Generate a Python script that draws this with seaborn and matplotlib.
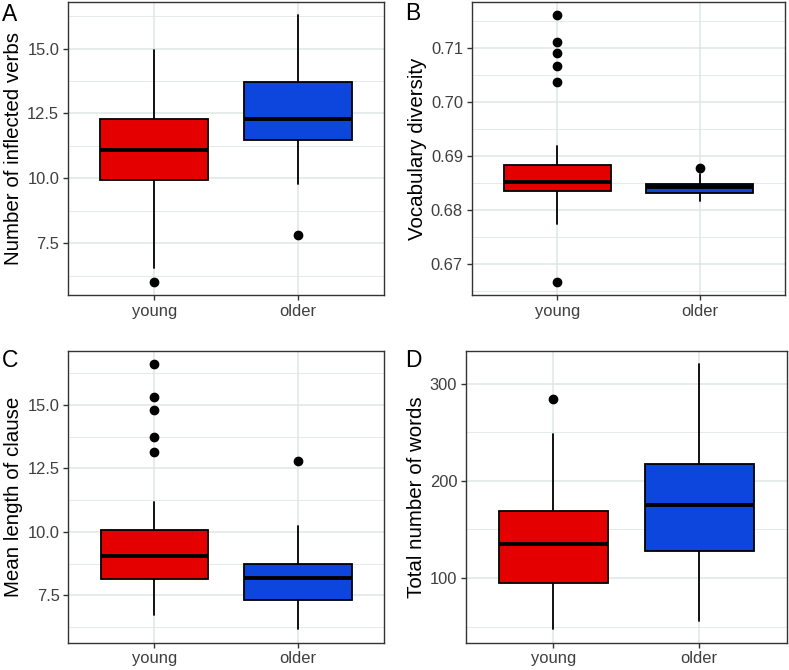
import matplotlib.pyplot as plt
import seaborn as sns
from matplotlib.ticker import AutoMinorLocator, FormatStrFormatter

# groups and fill colours
groups = ["young", "older"]
box_colors = ["#E50000", "#0C46DD"]

# box summaries: [lower whisker, Q1, median, Q3, upper whisker]
verbs_young = [6.54, 9.92, 11.09, 12.28, 14.93]
verbs_older = [9.77, 11.46, 12.27, 13.70, 16.28]
verbs_outliers = [[6.02], [7.82]]

vocab_young = [0.6774, 0.6835, 0.6852, 0.6883, 0.6918]
vocab_older = [0.6816, 0.6832, 0.6842, 0.6849, 0.6866]
vocab_outliers = [[0.7161, 0.7111, 0.7091, 0.7067, 0.7037, 0.6667], [0.6877]]

clause_young = [6.71, 8.14, 9.03, 10.07, 11.18]
clause_older = [6.15, 7.30, 8.16, 8.73, 10.23]
clause_outliers = [[16.61, 15.31, 14.82, 13.73, 13.14], [12.79]]

words_young = [47.1, 95.2, 135.5, 169.3, 247.8]
words_older = [55.6, 128.3, 175.4, 217.1, 320.1]
words_outliers = [[284.0], []]

# theme
sns.set_theme(style="white")
plt.rcParams['font.family'] = ['Liberation Sans', 'DejaVu Sans']

W, H = 789, 670
fig = plt.figure(figsize=(W / 100, H / 100), dpi=100)


def add_panel(left, top, right, bottom):
    # pixel box -> figure fraction
    return fig.add_axes([left / W, (H - bottom) / H, (right - left) / W, (bottom - top) / H])


def draw_box(ax, young, older, outliers, ylabel, ticks, fmt, tag, tag_x, tag_y):
    stats = []
    for v, o, name in zip([young, older], outliers, groups):
        stats.append(dict(whislo=v[0], q1=v[1], med=v[2], q3=v[3], whishi=v[4],
                          fliers=o, label=name))
    bp = ax.bxp(stats, positions=[0, 1], widths=0.75, patch_artist=True,
                showcaps=False,
                boxprops=dict(edgecolor='black', linewidth=1.3),
                whiskerprops=dict(color='black', linewidth=1.3),
                medianprops=dict(color='black', linewidth=2.8, solid_capstyle='butt'),
                flierprops=dict(marker='o', markerfacecolor='black',
                                markeredgecolor='black', markersize=6))
    for patch, c in zip(bp['boxes'], box_colors):
        patch.set_facecolor(c)

    # ggplot-style 5% expansion of data range
    allv = list(young) + list(older) + [x for o in outliers for x in o]
    lo, hi = min(allv), max(allv)
    pad = (hi - lo) * 0.05
    ax.set_ylim(lo - pad, hi + pad)
    ax.set_xlim(-0.6, 1.6)

    ax.set_yticks(ticks)
    ax.yaxis.set_major_formatter(FormatStrFormatter(fmt))
    ax.yaxis.set_minor_locator(AutoMinorLocator(2))
    ax.set_xticks([0, 1])
    ax.set_xticklabels(groups)

    ax.set_axisbelow(True)
    ax.grid(which='major', axis='both', color='#DFE5E5', linewidth=1.1)
    ax.grid(which='minor', axis='y', color='#DFE5E5', linewidth=0.6)
    ax.tick_params(which='major', length=3.8, width=1.0, color='#333333',
                   labelsize=11.9, labelcolor='#3F3F3F', pad=2.5,
                   left=True, bottom=True)
    ax.tick_params(which='minor', length=0)
    for s in ax.spines.values():
        s.set_color('#333333')
        s.set_linewidth(1.0)
    ax.set_xlabel('')
    ax.set_ylabel(ylabel, fontsize=14.8, color='black', labelpad=3)
    fig.text(tag_x / W, 1 - tag_y / H, tag, fontsize=16.5, ha='left',
             va='top', color='black')


axA = add_panel(68, 2, 384, 295)
draw_box(axA, verbs_young, verbs_older, verbs_outliers,
         'Number of inflected verbs', [7.5, 10.0, 12.5, 15.0], '%.1f', 'A', 2, 3)

axB = add_panel(471.7, 2, 785, 295)
draw_box(axB, vocab_young, vocab_older, vocab_outliers,
         'Vocabulary diversity', [0.67, 0.68, 0.69, 0.70, 0.71], '%.2f', 'B', 405, 2)

axC = add_panel(68.3, 351, 384.3, 642.7)
draw_box(axC, clause_young, clause_older, clause_outliers,
         'Mean length of clause', [7.5, 10.0, 12.5, 15.0], '%.1f', 'C', 2, 349)

axD = add_panel(466, 351, 786.7, 642.7)
draw_box(axD, words_young, words_older, words_outliers,
         'Total number of words', [100, 200, 300], '%d', 'D', 405, 349)

fig.savefig('out.png', dpi=100)
